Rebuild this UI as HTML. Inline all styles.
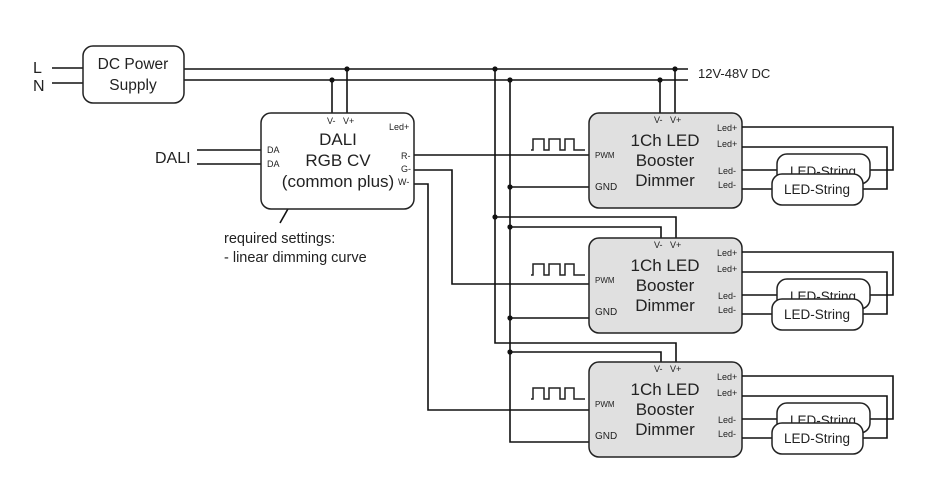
<!DOCTYPE html>
<html><head><meta charset="utf-8"><style>
html,body{margin:0;padding:0;background:#fff;}
svg{display:block;}
text{font-family:"Liberation Sans",Arial,sans-serif;fill:#222;}
</style></head><body>
<svg width="950" height="504" viewBox="0 0 950 504" xmlns="http://www.w3.org/2000/svg">
<defs>
<g id="wave"><polyline fill="none" stroke="#222" stroke-width="1.5" points="0,11 2,11 2,0 13,0 13,11 18,11 18,0 29,0 29,11 34,11 34,0 43,0 43,11 54,11"/></g>
</defs>
<g stroke="#111" stroke-width="1.6" fill="none">
<line x1="52" y1="68" x2="83" y2="68"/>
<line x1="52" y1="83" x2="83" y2="83"/>
<line x1="184" y1="69" x2="688" y2="69"/>
<line x1="184" y1="80" x2="688" y2="80"/>
<line x1="347" y1="69" x2="347" y2="113"/>
<line x1="332" y1="80" x2="332" y2="113"/>
<line x1="197" y1="150" x2="261" y2="150"/>
<line x1="197" y1="164" x2="261" y2="164"/>
<line x1="414" y1="155" x2="589" y2="155"/>
<polyline points="414,170 452,170 452,284 589,284"/>
<polyline points="414,184 428,184 428,410 589,410"/>
<polyline points="495,69 495,343 676,343 676,362"/>
<polyline points="495,217 676,217 676,238"/>
<polyline points="510,80 510,442 589,442"/>
<polyline points="510,227 661,227 661,238"/>
<line x1="510" y1="187" x2="589" y2="187"/>
<line x1="510" y1="318" x2="589" y2="318"/>
<polyline points="510,352 661,352 661,362"/>
<line x1="675" y1="69" x2="675" y2="113"/>
<line x1="660" y1="80" x2="660" y2="113"/>
<line x1="293" y1="200" x2="280" y2="223"/>
</g>
<g fill="#111">
<circle cx="347" cy="69" r="2.6"/><circle cx="332" cy="80" r="2.6"/>
<circle cx="495" cy="69" r="2.6"/><circle cx="510" cy="80" r="2.6"/>
<circle cx="675" cy="69" r="2.6"/><circle cx="660" cy="80" r="2.6"/>
<circle cx="495" cy="217" r="2.6"/><circle cx="510" cy="227" r="2.6"/>
<circle cx="510" cy="187" r="2.6"/><circle cx="510" cy="318" r="2.6"/>
<circle cx="510" cy="352" r="2.6"/>
</g>
<rect x="83" y="46" width="101" height="57" rx="10" fill="#fff" stroke="#222" stroke-width="1.5"/>
<text x="133" y="69" font-size="15.5" text-anchor="middle">DC Power</text>
<text x="133" y="90" font-size="15.5" text-anchor="middle">Supply</text>
<text x="33" y="73" font-size="16">L</text>
<text x="33" y="91" font-size="16">N</text>
<text x="698" y="78" font-size="13">12V-48V DC</text>
<rect x="261" y="113" width="153" height="96" rx="10" fill="#fff" stroke="#222" stroke-width="1.5"/>
<text x="327" y="124" font-size="9">V-</text><text x="343" y="124" font-size="9">V+</text>
<text x="389" y="130" font-size="9">Led+</text>
<text x="267" y="153" font-size="9">DA</text><text x="267" y="167" font-size="9">DA</text>
<text x="401" y="159" font-size="9">R-</text><text x="401" y="172" font-size="9">G-</text><text x="398" y="185" font-size="9">W-</text>
<text x="338" y="145" font-size="17" text-anchor="middle">DALI</text>
<text x="338" y="166" font-size="17" text-anchor="middle">RGB CV</text>
<text x="338" y="187" font-size="17" text-anchor="middle">(common plus)</text>
<text x="155" y="163" font-size="16">DALI</text>
<text x="224" y="243" font-size="14.5">required settings:</text>
<text x="224" y="262" font-size="14.5">- linear dimming curve</text>

<g id="b1">
<rect x="589" y="113" width="153" height="95" rx="10" fill="#e0e0e0" stroke="#222" stroke-width="1.5"/>
<text x="654" y="123" font-size="9">V-</text><text x="670" y="123" font-size="9">V+</text>
<text x="595" y="158" font-size="8">PWM</text>
<text x="595" y="190" font-size="10">GND</text>
<text x="665" y="146" font-size="17" text-anchor="middle">1Ch LED</text>
<text x="665" y="166" font-size="17" text-anchor="middle">Booster</text>
<text x="665" y="186" font-size="17" text-anchor="middle">Dimmer</text>
<text x="717" y="131" font-size="9">Led+</text><text x="717" y="147" font-size="9">Led+</text>
<text x="718" y="174" font-size="9">Led-</text><text x="718" y="188" font-size="9">Led-</text>
<use href="#wave" x="531" y="139"/>
<g stroke="#111" stroke-width="1.6" fill="none">
<polyline points="742,127 893,127 893,170 868,170"/>
<polyline points="742,147 887,147 887,189 862,189"/>
<line x1="742" y1="170" x2="777" y2="170"/>
<line x1="742" y1="189" x2="772" y2="189"/>
</g>
<rect x="777" y="154" width="93" height="30" rx="10" fill="#fff" stroke="#222" stroke-width="1.5"/>
<text x="823" y="176" font-size="13.5" text-anchor="middle">LED-String</text>
<rect x="772" y="174" width="91" height="31" rx="10" fill="#fff" stroke="#222" stroke-width="1.5"/>
<text x="817" y="194" font-size="13.5" text-anchor="middle">LED-String</text>
</g>
<use href="#b1" y="125"/>
<use href="#b1" y="249"/>
</svg>
</body></html>
